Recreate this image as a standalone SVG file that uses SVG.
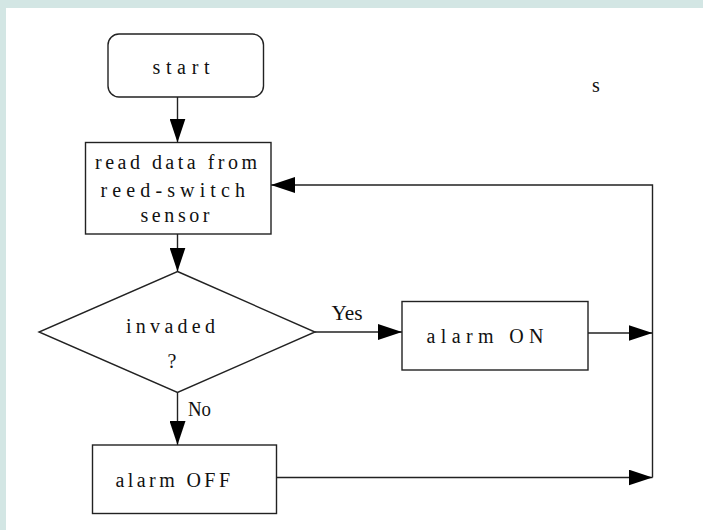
<svg xmlns="http://www.w3.org/2000/svg" width="703" height="530" viewBox="0 0 703 530">
<style>
.box{fill:#fff;stroke:#222;stroke-width:1.4}
.ln{fill:none;stroke:#222;stroke-width:1.4}
.t{font-family:"Liberation Serif","DejaVu Serif",serif;font-size:20px;fill:#111}
</style>
<defs>
<marker id="ah" viewBox="0 0 24 16" refX="24" refY="8" markerWidth="24" markerHeight="16" markerUnits="userSpaceOnUse" orient="auto">
<path d="M0,0 L24,8 L0,16 Z" fill="#000"/>
</marker>
</defs>
<rect x="0" y="0" width="703" height="530" fill="#d3e6e4"/>
<rect x="6" y="8" width="697" height="522" fill="#fff"/>
<g id="connectors">
<line class="ln" x1="177.5" y1="97" x2="177.5" y2="142.5" marker-end="url(#ah)"/>
<line class="ln" x1="177.5" y1="234" x2="177.5" y2="271.5" marker-end="url(#ah)"/>
<line class="ln" x1="315" y1="332" x2="402" y2="332" marker-end="url(#ah)"/>
<line class="ln" x1="177.5" y1="392" x2="177.5" y2="445" marker-end="url(#ah)"/>
<line class="ln" x1="588" y1="333" x2="652.5" y2="333" marker-end="url(#ah)"/>
<line class="ln" x1="276.5" y1="477.5" x2="652.5" y2="477.5" marker-end="url(#ah)"/>
<polyline class="ln" points="652.5,477.5 652.5,185 271,185" marker-end="url(#ah)"/>
<text class="t" x="331.5" y="320" textLength="31" lengthAdjust="spacingAndGlyphs">Yes</text>
<text class="t" x="188" y="416" textLength="23" lengthAdjust="spacingAndGlyphs">No</text>
</g>
<g id="start">
<rect class="box" x="108" y="34" width="155.5" height="63" rx="11"/>
<text class="t" x="152.5" y="73.5" textLength="57" lengthAdjust="spacing">start</text>
</g>
<g id="read">
<rect class="box" x="85.5" y="142.5" width="185.5" height="91.5"/>
<text class="t" x="95" y="168.5" textLength="162" lengthAdjust="spacing">read data from</text>
<text class="t" x="100.5" y="197" textLength="144.5" lengthAdjust="spacing">reed-switch</text>
<text class="t" x="140.5" y="222" textLength="69" lengthAdjust="spacing">sensor</text>
</g>
<g id="invaded">
<polygon class="box" points="177.5,271.5 315,332 177.5,392.5 39,332"/>
<text class="t" x="126" y="333" textLength="89" lengthAdjust="spacing">invaded</text>
<text class="t" x="167.5" y="368">?</text>
</g>
<g id="alarmOn">
<rect class="box" x="402" y="301.5" width="186" height="68.5"/>
<text class="t" x="426.5" y="343" textLength="117" lengthAdjust="spacing">alarm ON</text>
</g>
<g id="alarmOff">
<rect class="box" x="92.5" y="445" width="184" height="68.5"/>
<text class="t" x="115.5" y="486.5" textLength="114.5" lengthAdjust="spacing">alarm OFF</text>
</g>
<text class="t" x="592" y="91.5">s</text>
</svg>
